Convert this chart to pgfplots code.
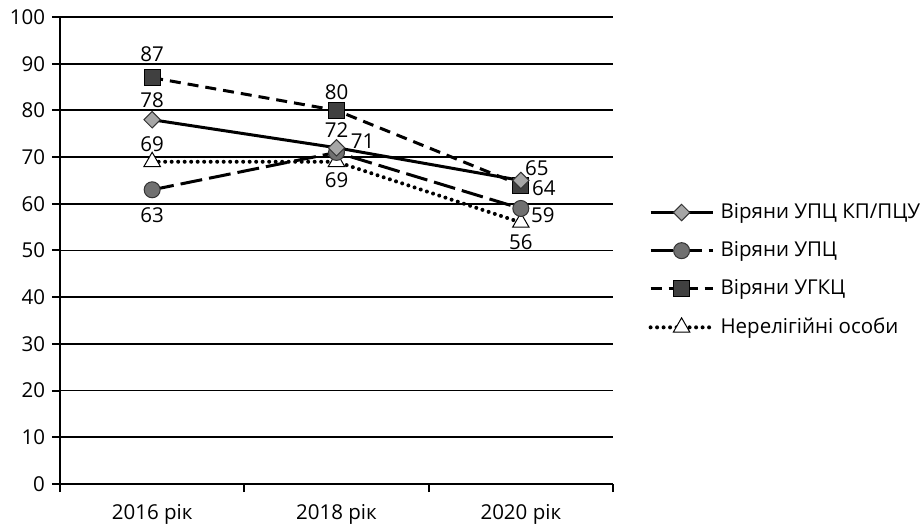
\documentclass[border=0pt]{standalone}
\usepackage{fontspec}
\setmainfont{Open Sans}
\usepackage{pgfplots}
\usepackage{pgfplotstable}
\pgfplotsset{compat=1.18}

\definecolor{mkA}{HTML}{A6A6A6}
\definecolor{mkB}{HTML}{707070}
\definecolor{mkC}{HTML}{404040}

% x y  label offset (dx dy, bp)
\pgfplotstableread{
x y dx dy
0 78 0 20
1 72 0 18
2 65 16 12
}\kppcu
\pgfplotstableread{
x y dx dy
0 63 0 -25
1 71 26 11
2 59 22 -7
}\upc
\pgfplotstableread{
x y dx dy
0 87 0 24
1 80 0 18
2 64 23 -3
}\ugkc
\pgfplotstableread{
x y dx dy
0 69 0 18
1 69 0 -18
2 56 0 -20
}\nerel

\newcommand\chartfont{\fontsize{20.5bp}{24bp}\selectfont}

\begin{document}
\chartfont
\begin{tikzpicture}
\path[use as bounding box] (-60bp,-43bp) rectangle (864bp,484bp);
\begin{axis}[
  at={(0,0)}, anchor=south west, scale only axis,
  width=553bp, height=467bp,
  xmin=-0.5, xmax=2.5, ymin=0, ymax=100,
  clip=false,
  axis lines*=left,
  axis line style={line width=2bp},
  tick align=outside,
  major tick length=8bp,
  tick style={black, line width=2bp},
  ytick={0,10,...,100},
  ymajorgrids=true,
  grid style={black, line width=1.8bp},
  xtick={-0.5,0.5,1.5,2.5}, xticklabels={},
  extra x ticks={0,1,2},
  extra x tick labels={2016 рік,2018 рік,2020 рік},
  extra x tick style={major tick length=0pt, grid=none,
    tick label style={yshift=-13bp}},
  /pgf/number format/assume math mode=true,
  tick label style={font=\chartfont},
  every node near coord/.append style={font=\chartfont},
  reverse legend,
  legend cell align=left,
  legend style={at={(rel axis cs:1.064,0.458)}, anchor=west,
    draw=none, fill=none, inner sep=0pt, row sep=20bp, column sep=6bp,
    font=\chartfont, nodes={inner sep=0pt}},
  legend image code/.code={\draw[mark repeat=2,mark phase=2,#1]
    plot coordinates {(0bp,0bp) (31bp,0bp) (62bp,0bp)};},
  nodes near coords,
  point meta=explicit symbolic,
  visualization depends on={\thisrow{dx}\as\dx},
  visualization depends on={\thisrow{dy}\as\dy},
  nodes near coords style={anchor=center, inner sep=0pt, xshift=\dx bp, yshift=\dy bp},
]
\addplot[black, line width=4bp, line cap=round, dash pattern=on 0bp off 6.5bp,
  mark=triangle*, mark size=9.5bp,
  mark options={solid, fill=white, draw=black, line width=1bp}]
  table[x=x, y=y, meta=y] {\nerel};
\addlegendentry{Нерелігійні особи}
\addplot[black, line width=3bp, dash pattern=on 11bp off 7bp,
  mark=square*, mark size=8bp,
  mark options={solid, fill=mkC, draw=black, line width=1bp}]
  table[x=x, y=y, meta=y] {\ugkc};
\addlegendentry{Віряни УГКЦ}
\addplot[black, line width=3bp, dash pattern=on 22bp off 7bp,
  mark=*, mark size=8bp,
  mark options={solid, fill=mkB, draw=black!80, line width=1bp}]
  table[x=x, y=y, meta=y] {\upc};
\addlegendentry{Віряни УПЦ}
\addplot[black, line width=3bp,
  mark=square*, mark size=5.8bp,
  mark options={solid, rotate=45, fill=mkA, draw=black!80, line width=1bp}]
  table[x=x, y=y, meta=y] {\kppcu};
\addlegendentry{Віряни УПЦ КП/ПЦУ}
\end{axis}
\end{tikzpicture}
\end{document}
